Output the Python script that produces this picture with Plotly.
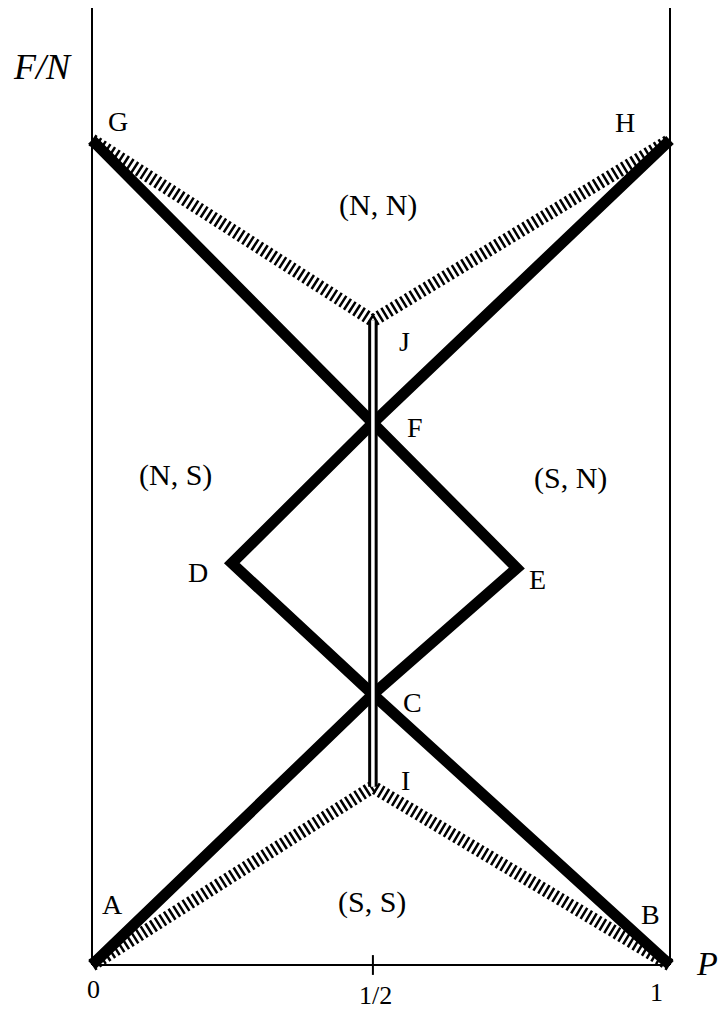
import plotly.graph_objects as go

# ---- data (P on x, F/N on y) ----
mid_p = 0.486
# thick boundary paths
path1_names = ["G", "F", "E", "C", "A"]
path1_p = [0.0, mid_p, 0.735, mid_p, 0.0]
path1_fn = [1.0, 0.657, 0.481, 0.328, 0.0]
path2_names = ["H", "F", "D", "C", "B"]
path2_p = [1.0, mid_p, 0.242, mid_p, 1.0]
path2_fn = [1.0, 0.657, 0.487, 0.328, 0.0]
# hatched boundaries
upper_hatch_p = [0.0, mid_p, 1.0]      # G - J - H
upper_hatch_fn = [1.0, 0.781, 1.0]
lower_hatch_p = [0.0, mid_p, 1.0]      # A - I - B
lower_hatch_fn = [0.0, 0.216, 0.0]
# double line J - I
double_p = [mid_p, mid_p]
double_fn = [0.781, 0.216]
# frame
frame_top = 1.16
# point labels
point_labels = ["G", "H", "J", "F", "D", "E", "C", "I", "A", "B"]
point_label_p = [0.045, 0.922, 0.540, 0.559, 0.183, 0.770, 0.555, 0.543, 0.035, 0.967]
point_label_fn = [1.022, 1.021, 0.756, 0.652, 0.476, 0.467, 0.318, 0.224, 0.073, 0.061]
# region labels
region_labels = ["(N, N)", "(N, S)", "(S, N)", "(S, S)"]
region_label_p = [0.495, 0.144, 0.827, 0.484]
region_label_fn = [0.921, 0.594, 0.590, 0.076]
# axis tick labels
tick_labels = ["0", "1/2", "1"]
tick_label_p = [0.002, 0.491, 0.976]
tick_label_fn = [-0.030, -0.037, -0.033]

FONT = "Liberation Serif, Times New Roman, serif"

fig = go.Figure()

def line(x, y, width, color="black", dash="solid"):
    fig.add_trace(go.Scatter(x=x, y=y, mode="lines", hoverinfo="skip",
                             line=dict(color=color, width=width, dash=dash),
                             showlegend=False))

# frame lines
line([0, 0], [0, frame_top], 2)
line([1, 1], [0, frame_top], 2)
line([0, 1], [0, 0], 2)
# tick at 1/2
line([mid_p, mid_p], [-0.012, 0.012], 2)

# hatched lines
line(upper_hatch_p, upper_hatch_fn, 13, dash="2.5px,3px")
line(lower_hatch_p, lower_hatch_fn, 13, dash="2.5px,3px")

# thick lines
line(path1_p, path1_fn, 11)
line(path2_p, path2_fn, 11)

# double line
line(double_p, double_fn, 9.5)
line(double_p, double_fn, 3.5, color="white")

annotations = []
for t, x, y in zip(point_labels, point_label_p, point_label_fn):
    annotations.append(dict(x=x, y=y, text=t, showarrow=False,
                            font=dict(family=FONT, size=28, color="black")))
for t, x, y in zip(region_labels, region_label_p, region_label_fn):
    annotations.append(dict(x=x, y=y, text=t, showarrow=False,
                            font=dict(family=FONT, size=30, color="black")))
for t, x, y in zip(tick_labels, tick_label_p, tick_label_fn):
    annotations.append(dict(x=x, y=y, text=t, showarrow=False,
                            font=dict(family=FONT, size=26, color="black")))
annotations.append(dict(x=-0.0865, y=1.088, text="<i>F/N</i>", showarrow=False,
                        font=dict(family=FONT, size=36, color="black")))
annotations.append(dict(x=1.064, y=0.002, text="<i>P</i>", showarrow=False,
                        font=dict(family=FONT, size=34, color="black")))

# page body has an 8px default margin: the figure is sized to fit inside the
# window and ranges are set so the drawing lands where it should
fig.update_layout(
    width=711, height=1003, autosize=False,
    margin=dict(l=0, r=0, t=0, b=0),
    paper_bgcolor="white", plot_bgcolor="white",
    xaxis=dict(range=[-0.14533, 1.08478], visible=False, fixedrange=True),
    yaxis=dict(range=[-0.05576, 1.16000], visible=False, fixedrange=True),
    annotations=annotations,
)

fig.write_html("out.html")
